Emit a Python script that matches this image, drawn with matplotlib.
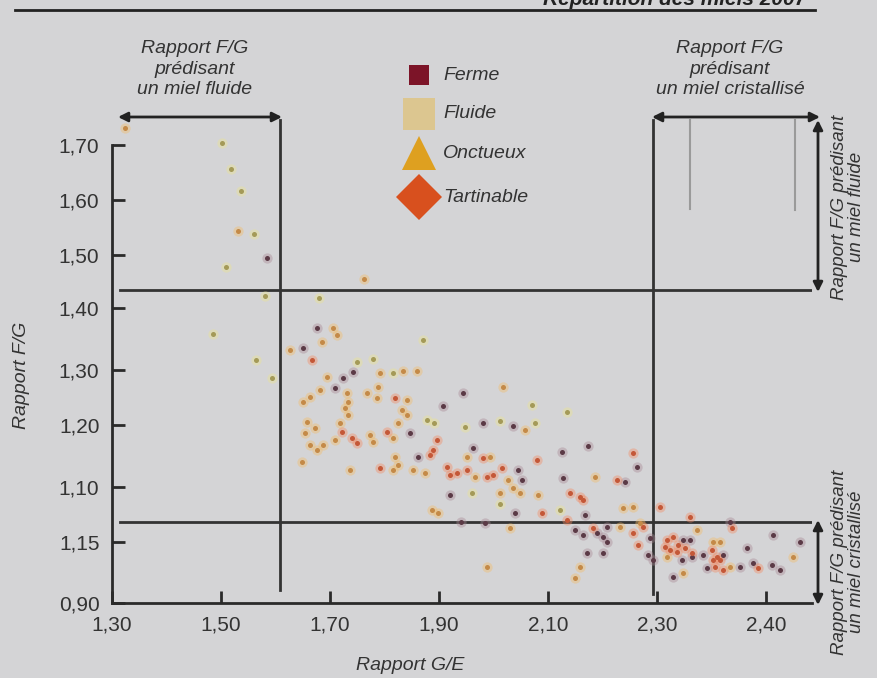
import matplotlib
matplotlib.use("Agg")
import matplotlib.pyplot as plt
from matplotlib.lines import Line2D

# Rapport G/E (x) and Rapport F/G (y) per texture
ferme_x = [1.584, 1.676, 1.650, 1.742, 1.724, 1.709, 1.944, 1.907, 1.847, 1.861,
           1.981, 2.036, 1.962, 2.045, 2.052, 2.039, 1.984, 2.126, 2.173, 2.128,
           2.168, 2.241, 2.263, 2.150, 2.164, 2.208, 2.201, 2.208, 2.287, 1.920,
           1.940, 2.190, 2.172, 2.201, 2.283, 2.293, 2.348, 2.361, 2.346, 2.364,
           2.329, 2.384, 2.434, 2.421, 2.392, 2.452, 2.465, 2.476, 2.513, 2.511,
           2.526, 2.562]
ferme_y = [1.503, 1.380, 1.345, 1.303, 1.293, 1.276, 1.267, 1.244, 1.197, 1.155,
           1.214, 1.209, 1.171, 1.132, 1.115, 1.057, 1.040, 1.164, 1.174, 1.118,
           1.054, 1.111, 1.138, 1.028, 1.019, 1.033, 1.015, 1.007, 1.014, 1.089,
           1.041, 1.022, 0.987, 0.987, 0.984, 0.975, 1.010, 1.010, 0.975, 0.980,
           0.945, 0.984, 1.041, 0.984, 0.961, 0.963, 0.996, 0.970, 1.019, 0.966,
           0.958, 1.007]

fluide_x = [1.502, 1.518, 1.537, 1.561, 1.509, 1.581, 1.680, 1.485, 1.564, 1.594,
            1.871, 1.750, 1.779, 1.816, 1.878, 1.891, 1.948, 2.071, 2.135, 2.012,
            2.076, 1.961, 2.012, 2.122]
fluide_y = [1.703, 1.658, 1.620, 1.545, 1.487, 1.436, 1.433, 1.370, 1.324, 1.293,
            1.359, 1.321, 1.326, 1.302, 1.220, 1.214, 1.207, 1.246, 1.234, 1.218,
            1.214, 1.092, 1.073, 1.062]

onct_x = [1.324, 1.531, 1.762, 1.706, 1.713, 1.685, 1.627, 1.792, 1.834, 1.860,
          1.694, 1.788, 1.682, 1.650, 1.663, 1.731, 1.768, 1.733, 1.786, 1.841,
          1.728, 1.832, 1.841, 1.658, 1.672, 1.718, 1.733, 1.825, 1.654, 1.773,
          1.816, 1.663, 1.687, 1.676, 1.709, 1.779, 1.819, 1.825, 1.649, 1.737,
          1.816, 1.852, 1.874, 2.017, 2.058, 1.951, 1.994, 1.966, 2.027, 2.036,
          2.012, 2.049, 2.082, 2.030, 2.186, 2.238, 2.256, 2.232, 1.887, 1.898,
          1.988, 2.159, 2.150, 2.269, 2.373, 2.348, 2.318, 2.403, 2.416, 2.434,
          2.550]
onct_y = [1.730, 1.550, 1.466, 1.380, 1.368, 1.356, 1.342, 1.302, 1.305, 1.305,
          1.295, 1.277, 1.272, 1.251, 1.260, 1.267, 1.267, 1.251, 1.258, 1.255,
          1.241, 1.237, 1.228, 1.216, 1.206, 1.214, 1.228, 1.214, 1.197, 1.193,
          1.188, 1.176, 1.176, 1.167, 1.185, 1.181, 1.155, 1.141, 1.146, 1.132,
          1.132, 1.132, 1.127, 1.277, 1.202, 1.155, 1.155, 1.120, 1.115, 1.101,
          1.092, 1.092, 1.089, 1.031, 1.120, 1.066, 1.068, 1.033, 1.062, 1.057,
          0.963, 0.963, 0.944, 1.040, 1.028, 0.952, 0.980, 1.007, 1.007, 0.963,
          0.980]

tart_x = [1.667, 1.819, 1.722, 1.805, 1.740, 1.750, 1.896, 1.889, 1.883, 1.792,
          1.915, 1.933, 1.920, 1.951, 1.981, 2.016, 1.988, 1.999, 2.089, 2.080,
          2.140, 2.159, 2.227, 2.256, 2.135, 2.183, 2.256, 2.274, 2.164, 2.306,
          2.265, 2.361, 2.318, 2.329, 2.339, 2.315, 2.324, 2.337, 2.351, 2.364,
          2.438, 2.401, 2.410, 2.403, 2.416, 2.406, 2.421, 2.485]
tart_y = [1.324, 1.258, 1.199, 1.199, 1.188, 1.180, 1.185, 1.167, 1.159, 1.136,
          1.138, 1.127, 1.124, 1.132, 1.153, 1.136, 1.120, 1.124, 1.057, 1.150,
          1.092, 1.085, 1.115, 1.162, 1.045, 1.031, 1.022, 1.033, 1.080, 1.068,
          1.001, 1.050, 1.010, 1.015, 1.001, 0.998, 0.993, 0.989, 0.996, 0.987,
          1.031, 0.993, 0.980, 0.975, 0.975, 0.963, 0.958, 0.961]

x_ticks = [1.3, 1.5, 1.7, 1.9, 2.1, 2.3, 2.5]
x_labels = ["1,30", "1,50", "1,70", "1,90", "2,10", "2,30", "2,40"]
y_ticks = [0.900, 1.007, 1.103, 1.211, 1.307, 1.415, 1.508, 1.604, 1.700]
y_labels = ["0,90", "1,15", "1,10", "1,20", "1,30", "1,40", "1,50", "1,60", "1,70"]

# thresholds
fg_fluide = 1.447
fg_crist = 1.041
ge_fluide = 1.608
ge_crist = 2.293

BG = "#d4d4d6"
INK = "#2a2a2a"
plt.rcParams["font.family"] = ["Liberation Sans", "DejaVu Sans"]

fig = plt.figure(figsize=(8.78, 6.78), dpi=100, facecolor=BG)
ax = fig.add_axes([112/878, 75/678, 700/878, 493/678])
ax.set_facecolor(BG)
ax.set_xlim(1.3, 2.584)
ax.set_ylim(0.9, 1.761)

styles = [
    (ferme_x, ferme_y, "#5b3a46", "#a88894"),
    (fluide_x, fluide_y, "#a49a58", "#ece48e"),
    (onct_x, onct_y, "#c48a48", "#f4bc66"),
    (tart_x, tart_y, "#c45838", "#f48a62"),
]
for xs, ys, core, halo in styles:
    ax.scatter(xs, ys, s=55, color=halo, alpha=0.4, lw=0, zorder=3)
    ax.scatter(xs, ys, s=13, color=core, lw=0, zorder=4)

# threshold lines
ax.plot([1.315, 2.584], [fg_fluide, fg_fluide], color="#333", lw=2, zorder=2)
ax.plot([1.315, 2.584], [fg_crist, fg_crist], color="#333", lw=2, zorder=2)
ax.plot([ge_fluide, ge_fluide], [0.923, 1.744], color="#333", lw=2, zorder=2)
ax.plot([ge_crist, ge_crist], [0.915, 1.744], color="#333", lw=2, zorder=2)
# faint scan marks top right
ax.plot([2.361, 2.361], [1.588, 1.744], color="#9a9a9a", lw=1.5, zorder=2)
ax.plot([2.553, 2.553], [1.586, 1.744], color="#9a9a9a", lw=1.5, zorder=2)

for side in ["top", "right"]:
    ax.spines[side].set_visible(False)
ax.spines["left"].set_bounds(0.9, 1.7)
for side in ["left", "bottom"]:
    ax.spines[side].set_linewidth(2)
    ax.spines[side].set_color(INK)

ax.set_xticks(x_ticks)
ax.set_xticklabels(x_labels)
ax.set_yticks(y_ticks)
ax.set_yticklabels(y_labels)
ax.tick_params(direction="in", length=9, width=2, color=INK, labelsize=15,
               labelcolor="#333", pad=9)

# overlay in pixel coordinates for the annotations
ov = fig.add_axes([0, 0, 1, 1], facecolor="none")
ov.set_xlim(0, 878)
ov.set_ylim(678, 0)
ov.axis("off")

ov.text(410, 665, "Rapport G/E", ha="center", va="center",
        fontsize=14, style="italic", color="#333")
ov.text(22, 375, "Rapport F/G", ha="center", va="center", rotation=90,
        fontsize=14, style="italic", color="#333")

ov.plot([15, 815], [10, 10], color="#222", lw=2)
ov.text(806, 5, "Répartition des miels 2007", ha="right", va="baseline",
        fontsize=15, fontweight="bold", style="italic", color="#222")

ov.text(195, 69, "Rapport F/G\nprédisant\nun miel fluide", ha="center", va="center",
        fontsize=14, style="italic", color="#333", linespacing=1.25)
ov.text(730, 69, "Rapport F/G\nprédisant\nun miel cristallisé", ha="center", va="center",
        fontsize=14, style="italic", color="#333", linespacing=1.25)
ov.text(848, 207, "Rapport F/G prédisant\nun miel fluide", ha="center", va="center",
        rotation=90, fontsize=13.5, style="italic", color="#333", linespacing=1.05)
ov.text(848, 562, "Rapport F/G prédisant\nun miel cristallisé", ha="center", va="center",
        rotation=90, fontsize=13.5, style="italic", color="#333", linespacing=1.05)

arrow = dict(arrowstyle="<|-|>", lw=2, color="#222", mutation_scale=14, shrinkA=0, shrinkB=0)
ov.annotate("", xy=(118, 117), xytext=(282, 117), arrowprops=arrow)
ov.annotate("", xy=(652, 117), xytext=(820, 117), arrowprops=arrow)
ov.annotate("", xy=(818, 120), xytext=(818, 292), arrowprops=arrow)
ov.annotate("", xy=(818, 520), xytext=(818, 605), arrowprops=arrow)

# legend
leg = [("Ferme", "s", 20, "#7c1428", 75),
       ("Fluide", "s", 32, "#dcc690", 114),
       ("Onctueux", "^", 34, "#dea020", 153),
       ("Tartinable", "D", 32, "#d8501e", 197)]
for label, mk, ms, col, yy in leg:
    ov.add_line(Line2D([419], [yy], marker=mk, markersize=ms * 0.72, color=col,
                       markeredgewidth=0, linestyle="none"))
    ov.text(443, yy, label, ha="left", va="center", fontsize=14, style="italic", color="#333")

fig.savefig("out.png", dpi=100, facecolor=BG)
